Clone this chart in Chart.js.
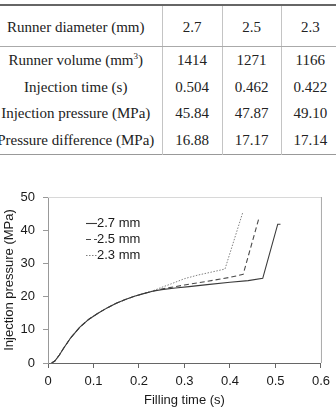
<!DOCTYPE html>
<html>
<head>
<meta charset="utf-8">
<script src="https://cdn.jsdelivr.net/npm/chart.js@4.4.1/dist/chart.umd.min.js"></script>
<style>
  html, body { margin: 0; padding: 0; background: #fff; }
  body { width: 336px; height: 414px; position: relative; overflow: hidden; }
  #runnerTable {
    position: absolute; left: -10px; top: 4px; width: 349px;
    border-collapse: collapse; table-layout: fixed;
    font-family: "Liberation Serif", "Times New Roman", serif; font-size: 15px; color: #222;
    border-top: 2px solid #666; border-bottom: 1px solid #999;
  }
  #runnerTable td { text-align: center; padding: 0; height: 26.75px; line-height: 15px; white-space: nowrap; }
  #runnerTable tr.head td { height: 37px; padding-top: 3px; border-bottom: 1px solid #aaa; }
  #runnerTable td + td { border-left: 1px solid #c4c4c4; }
  #runnerTable sup { font-size: 9px; line-height: 0; vertical-align: 6px; }
  #chartBox { position: absolute; left: 0; top: 170px; width: 336px; height: 244px; }
</style>
</head>
<body>
<table id="runnerTable">
  <colgroup><col style="width:172px"><col style="width:60px"><col style="width:59px"><col style="width:58px"></colgroup>
  <tbody id="tableBody"></tbody>
</table>
<div id="chartBox"><canvas id="pressureChart"></canvas></div>
<script>
// table data
const tableHeader = ['Runner diameter (mm)', '2.7', '2.5', '2.3'];
const tableRows = [
  ['Runner volume (mm<sup>3</sup>)', '1414', '1271', '1166'],
  ['Injection time (s)', '0.504', '0.462', '0.422'],
  ['Injection pressure (MPa)', '45.84', '47.87', '49.10'],
  ['Pressure difference (MPa)', '16.88', '17.17', '17.14'],
];

// chart data
const seriesLabels = ['2.7 mm', '2.5 mm', '2.3 mm'];
const time27 = [0.008, 0.015, 0.025, 0.035, 0.05, 0.07, 0.09, 0.11, 0.13, 0.15, 0.17, 0.19, 0.21, 0.23, 0.25, 0.28, 0.31, 0.35, 0.40, 0.44, 0.472, 0.505, 0.511];
const press27 = [0, 0.6, 2.4, 4.6, 7.6, 10.8, 13.2, 15.0, 16.6, 18.0, 19.1, 20.1, 20.9, 21.6, 22.1, 22.6, 23.0, 23.6, 24.3, 24.8, 25.5, 41.8, 41.8];
const time25 = [0.008, 0.015, 0.025, 0.035, 0.05, 0.07, 0.09, 0.11, 0.13, 0.15, 0.17, 0.19, 0.21, 0.23, 0.25, 0.28, 0.30, 0.35, 0.40, 0.429, 0.464];
const press25 = [0, 0.6, 2.4, 4.6, 7.6, 10.8, 13.2, 15.0, 16.6, 18.0, 19.1, 20.1, 20.9, 21.6, 22.3, 23.0, 23.5, 24.6, 25.8, 26.7, 43.8];
const time23 = [0.008, 0.015, 0.025, 0.035, 0.05, 0.07, 0.09, 0.11, 0.13, 0.15, 0.17, 0.19, 0.21, 0.23, 0.25, 0.27, 0.30, 0.33, 0.36, 0.389, 0.428];
const press23 = [0, 0.6, 2.4, 4.6, 7.6, 10.8, 13.2, 15.0, 16.6, 18.0, 19.1, 20.1, 20.9, 21.7, 22.8, 23.8, 25.4, 26.5, 27.4, 28.3, 45.3];

const xTicks = [0, 0.1, 0.2, 0.3, 0.4, 0.5, 0.6];
const yTicks = [0, 10, 20, 30, 40, 50];

function buildTable() {
  const $body = document.getElementById('tableBody');
  const head = document.createElement('tr');
  head.className = 'head';
  head.innerHTML = tableHeader.map(c => `<td>${c}</td>`).join('');
  $body.append(head);
  tableRows.forEach(row => {
    const tr = document.createElement('tr');
    tr.innerHTML = row.map(c => `<td>${c}</td>`).join('');
    $body.append(tr);
  });
}

function toPoints(xs, ys) {
  return xs.map((x, i) => ({ x, y: ys[i] }));
}

const lineStyles = [
  { borderColor: '#3a3a3a', borderWidth: 1.1, borderDash: [] },
  { borderColor: '#4a4a4a', borderWidth: 1.1, borderDash: [5, 3] },
  { borderColor: '#808080', borderWidth: 1, borderDash: [1.5, 1.5] },
];

// frame on top/right of the plot area + the inline legend
const framePlugin = {
  id: 'frame',
  afterDraw(chart) {
    const { ctx, chartArea: a } = chart;
    ctx.save();
    ctx.lineWidth = 1;
    ctx.strokeStyle = '#d8d8d8';
    ctx.beginPath();
    ctx.moveTo(a.left, a.top + 0.5);
    ctx.lineTo(a.right, a.top + 0.5);
    ctx.stroke();
    ctx.strokeStyle = '#aaa';
    ctx.beginPath();
    ctx.moveTo(a.right + 0.5, a.top);
    ctx.lineTo(a.right + 0.5, a.bottom);
    ctx.stroke();

    ctx.font = '13px "Liberation Sans", Arial, sans-serif';
    ctx.textBaseline = 'middle';
    ctx.fillStyle = '#1a1a1a';
    chart.data.datasets.forEach((ds, i) => {
      const y = a.top + 26 + i * 16;
      const x = a.left + 38;
      ctx.strokeStyle = ds.borderColor;
      ctx.lineWidth = ds.borderWidth;
      ctx.setLineDash(ds.borderDash);
      ctx.beginPath();
      ctx.moveTo(x, y + 0.5);
      ctx.lineTo(x + 11, y + 0.5);
      ctx.stroke();
      ctx.setLineDash([]);
      ctx.fillText(ds.label, x + 11, y);
    });
    ctx.restore();
  },
};

function renderChart() {
  const series = [[time27, press27], [time25, press25], [time23, press23]];
  const datasets = series.map(([xs, ys], i) => ({
    label: seriesLabels[i],
    data: toPoints(xs, ys),
    pointRadius: 0,
    tension: 0,
    fill: false,
    ...lineStyles[i],
  }));

  const font = { family: '"Liberation Sans", Arial, sans-serif', size: 13 };

  return new Chart(document.getElementById('pressureChart'), {
    type: 'line',
    data: { datasets },
    options: {
      responsive: true,
      maintainAspectRatio: false,
      animation: false,
      devicePixelRatio: 1,
      layout: { padding: { top: 27, right: 15, left: 0, bottom: 0 } },
      plugins: { legend: { display: false }, tooltip: { enabled: false } },
      scales: {
        x: {
          type: 'linear',
          min: 0,
          max: 0.6,
          afterBuildTicks: scale => { scale.ticks = xTicks.map(value => ({ value })); },
          afterFit: scale => { scale.height = 51; },
          ticks: { font, color: '#1a1a1a', padding: 6, callback: v => String(+v.toFixed(1)) },
          grid: { drawOnChartArea: false, drawTicks: true, tickLength: 5, color: '#666' },
          border: { display: true, color: '#666', width: 1 },
          title: { display: true, text: 'Filling time (s)', font, color: '#1a1a1a', padding: { top: 0, bottom: 6 } },
        },
        y: {
          min: 0,
          max: 50,
          afterBuildTicks: scale => { scale.ticks = yTicks.map(value => ({ value })); },
          afterFit: scale => { scale.width = 48; },
          ticks: { font, color: '#1a1a1a', padding: 8 },
          grid: { drawOnChartArea: false, drawTicks: true, tickLength: 5, color: '#999' },
          border: { display: true, color: '#999', width: 1 },
          title: { display: true, text: 'Injection pressure (MPa)', font, color: '#1a1a1a', padding: { top: 2, bottom: 0 } },
        },
      },
    },
    plugins: [framePlugin],
  });
}

buildTable();
renderChart();
</script>
</body>
</html>
